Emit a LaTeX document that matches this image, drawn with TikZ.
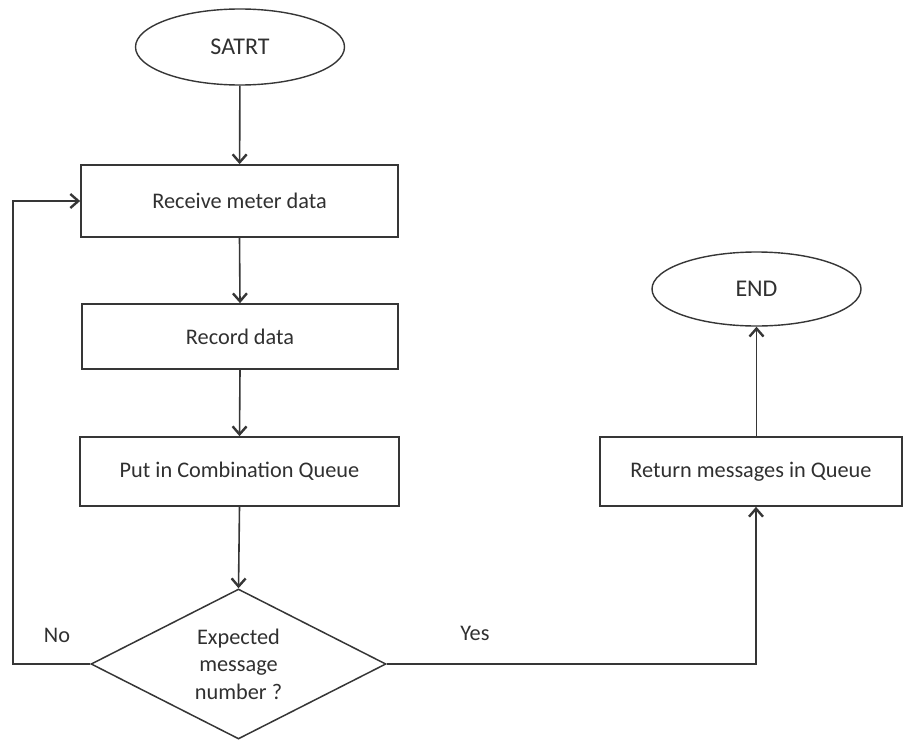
\documentclass[tikz,border=0pt]{standalone}
\usepackage{fontspec}
\setmainfont{Carlito}
\usetikzlibrary{arrows.meta,shapes.geometric}
\definecolor{ink}{HTML}{363636}
\definecolor{txt}{HTML}{303030}
\begin{document}
\begin{tikzpicture}[x=1pt,y=-1pt,
  every node/.style={text=txt},
  term/.style={ellipse,draw=ink,line width=1.4pt,inner sep=0pt,
    font=\fontsize{24}{28}\selectfont},
  proc/.style={rectangle,draw=ink,line width=1.7pt,inner sep=0pt,
    font=\fontsize{22.3}{27.5}\selectfont},
  decision/.style={diamond,draw=ink,line width=1.5pt,inner sep=0pt,aspect=2,
    minimum width=295pt,minimum height=150pt,align=center,
    font=\fontsize{22.3}{27.5}\selectfont},
  lbl/.style={font=\fontsize{22.3}{27.5}\selectfont},
  flow/.style={draw=ink,line width=1.6pt,
    -{Straight Barb[length=8pt,width=14pt,line width=2.4pt]}}]
\useasboundingbox (0,0) rectangle (904,739);

% terminals
\node[term,minimum width=209pt,minimum height=76pt] (start) at (240,47) {SATRT};
\node[term,minimum width=209pt,minimum height=74pt] (finish) at (756.5,289) {END};

% process steps
\node[proc,minimum width=317pt,minimum height=72pt] (recv) at (239.5,201) {Receive meter data};
\node[proc,minimum width=316pt,minimum height=65pt] (rec) at (240,336.5) {Record data};
\node[proc,minimum width=319pt,minimum height=69pt] (queue) at (239.5,471.5) {Put in Combination Queue};
\node[proc,minimum width=302pt,minimum height=69pt] (ret) at (751,471.5) {Return messages in Queue};

% decision
\node[decision] (dec) at (238.5,664) {Expected\\message\\number ?};

% branch labels
\node[lbl] (no) at (57,635) {No};
\node[lbl] (yes) at (475,633) {Yes};

% corners of the two branches
\coordinate (nocorner) at (13,664);
\coordinate (yescorner) at (756,664);

% main flow
\draw[flow] (start) -- (recv);
\draw[flow] (recv.south) -- (rec.north);
\draw[flow] (rec.south) -- (queue.north);
\draw[flow] (queue.south) -- (dec.north);

% "No" branch loops back to the first step
\draw[flow] (dec.west) -- (nocorner) |- (recv.west);

% "Yes" branch
\draw[flow] (dec.east) -- (yescorner) -- (yescorner |- ret.south);
\draw[flow] (ret.north -| finish.south) -- (finish.south);
\end{tikzpicture}
\end{document}
